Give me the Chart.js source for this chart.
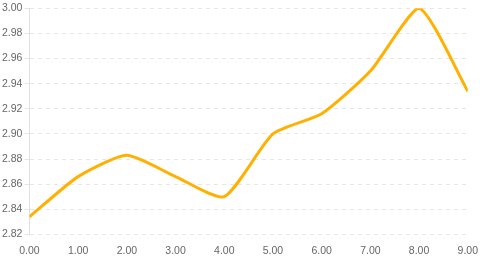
<!DOCTYPE html>
<html><head><meta charset="utf-8">
<script src="https://cdn.jsdelivr.net/npm/chart.js@4/dist/chart.umd.min.js"></script>
<style>html,body{margin:0;padding:0;background:#fff}#wrap{width:480px;height:257px}</style>
</head><body><div id="wrap"><canvas id="c"></canvas></div>
<script>
const xValues = [0, 1, 2, 3, 4, 5, 6, 7, 8, 9];
const yValues = [2.834, 2.866, 2.883, 2.866, 2.850, 2.900, 2.916, 2.950, 3.000, 2.934];
const points = xValues.map((x, i) => ({x: x, y: yValues[i]}));
new Chart(document.getElementById('c'), {
  type: 'line',
  data: { datasets: [{ data: points, borderColor: '#FFB000', borderWidth: 3, pointRadius: 0, fill: false, tension: 0.2 }] },
  options: {
    responsive: true, maintainAspectRatio: false, animation: false,
    layout: { padding: { left: 0, right: 3, top: 2, bottom: 0 } },
    plugins: { legend: { display: false }, tooltip: { enabled: false } },
    scales: {
      x: { type: 'linear', min: 0, max: 9,
        grid: { display: false },
        border: { display: false },
        afterFit: s => { s.height -= 2; },
        ticks: { stepSize: 1, padding: 2, color: '#666', font: { family: 'Liberation Sans', size: 10.5 }, callback: v => Number(v).toFixed(2), maxRotation: 0 } },
      y: { min: 2.82, max: 3.0,
        grid: { color: '#e6e6e6', drawTicks: true, tickLength: 5 },
        border: { display: true, color: '#e0e0e0', dash: [4, 4] },
        ticks: { stepSize: 0.02, color: '#666', padding: 2, font: { family: 'Liberation Sans', size: 10.5 }, callback: v => Number(v).toFixed(2) } }
    }
  }
});
</script></body></html>
